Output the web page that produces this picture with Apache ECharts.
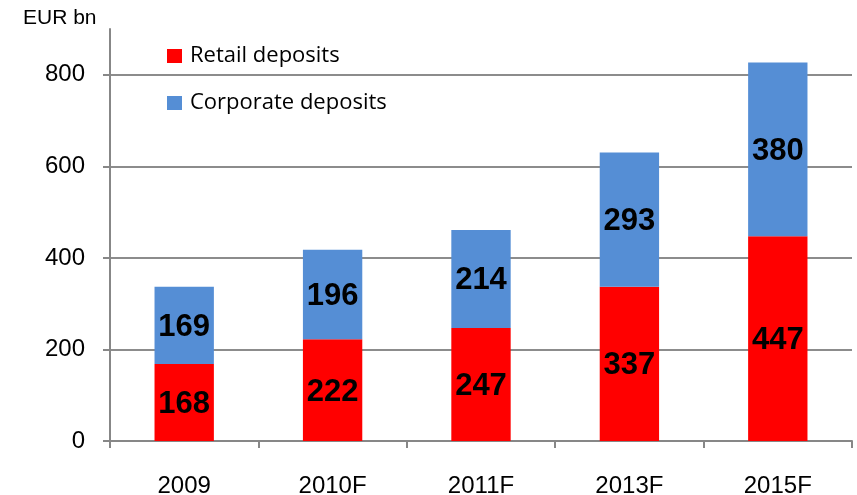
<!DOCTYPE html>
<html>
<head>
<meta charset="utf-8">
<script src="https://cdn.jsdelivr.net/npm/echarts@6/dist/echarts.min.js"></script>
<style>
  html, body { margin: 0; padding: 0; background: #fff; }
  #main { width: 857px; height: 495px; }
</style>
</head>
<body>
<div id="main"></div>
<script>
// 数据
const years = ['2009', '2010F', '2011F', '2013F', '2015F'];
const retail = [168, 222, 247, 337, 447];
const corporate = [169, 196, 214, 293, 380];
const yTicks = [0, 200, 400, 600, 800];

const chart = echarts.init(document.getElementById('main'), null, { renderer: 'canvas' });

const arial = 'Liberation Sans, Arial, sans-serif';
const axisGray = '#878787';

const labelStyle = {
  show: true,
  position: 'inside',
  offset: [0, 2],
  color: '#000',
  fontFamily: arial,
  fontWeight: 'bold',
  fontSize: 31
};

chart.setOption({
  animation: false,
  grid: { left: 110, right: 5, top: 29, bottom: 54, containLabel: false, outerBoundsMode: 'none' },
  graphic: [{
    type: 'text',
    left: 23,
    top: 8,
    style: { text: 'EUR bn', fontSize: 21, fontFamily: arial, fill: '#000' }
  }],
  legend: {
    orient: 'vertical',
    left: 162,
    top: 40,
    itemWidth: 15,
    itemHeight: 14,
    itemGap: 25,
    icon: 'rect',
    textStyle: { fontSize: 22, fontFamily: 'Open Sans, sans-serif', color: '#000', padding: [0, 0, 0, 3] },
    data: ['Retail deposits', 'Corporate deposits']
  },
  xAxis: {
    type: 'category',
    data: years,
    axisLine: { lineStyle: { color: axisGray, width: 2 } },
    axisTick: { show: true, length: 7, lineStyle: { color: axisGray, width: 2 } },
    axisLabel: { margin: 33, fontSize: 24, color: '#000', fontFamily: arial }
  },
  yAxis: {
    type: 'value',
    min: 0,
    max: 900,
    interval: 100,
    axisLine: { show: true, lineStyle: { color: axisGray, width: 2 } },
    axisTick: { show: true, length: 7, customValues: yTicks, lineStyle: { color: axisGray, width: 2 } },
    axisLabel: {
      margin: 25,
      fontSize: 24,
      color: '#000',
      fontFamily: arial,
      customValues: yTicks
    },
    splitLine: {
      show: true,
      lineStyle: { color: '#8c8c8c', width: 2 }
    }
  },
  series: [
    {
      name: 'Retail deposits',
      type: 'bar',
      stack: 'total',
      barWidth: '40%',
      itemStyle: { color: '#ff0000' },
      label: labelStyle,
      data: retail
    },
    {
      name: 'Corporate deposits',
      type: 'bar',
      stack: 'total',
      barWidth: '40%',
      itemStyle: { color: '#558ed5' },
      label: labelStyle,
      data: corporate
    }
  ]
});
</script>
</body>
</html>
